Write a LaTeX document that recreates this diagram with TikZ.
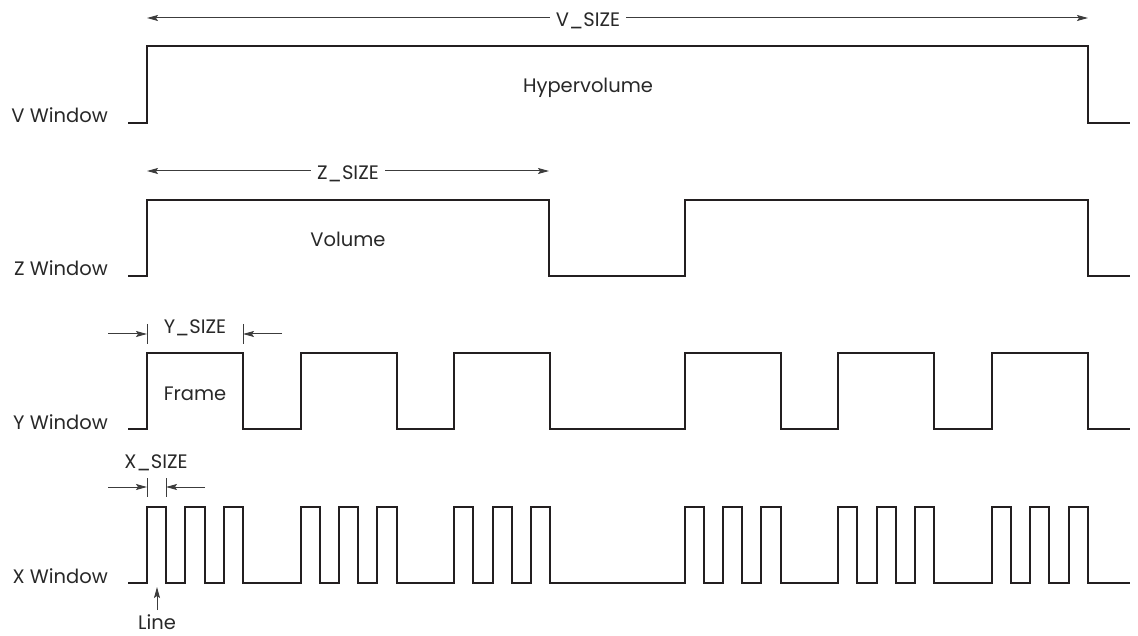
\documentclass[tikz,border=0pt]{standalone}
\usepackage{fontspec}
\setmainfont{Poppins}
\usetikzlibrary{arrows.meta}
\definecolor{sigc}{RGB}{35,31,32}
\definecolor{dimc}{RGB}{60,60,60}
\definecolor{txtc}{RGB}{40,40,40}
\begin{document}
\begin{tikzpicture}[x=1pt,y=-1pt,
  sig/.style={line width=2pt,draw=sigc},
  dim/.style={line width=1pt,draw=dimc},
  dimarrow/.style={dim,-{Stealth[length=11pt,width=6pt,inset=2pt]}},
  lbl/.style={font=\fontsize{19.5}{23}\selectfont,text=txtc,inner sep=0pt},
  dimlbl/.style={lbl,fill=white,inner xsep=6pt},
]
\useasboundingbox (0,0) rectangle (1138,636);

% row labels
\node[lbl,anchor=base east] (vw) at (108,123) {V Window};
\node[lbl,anchor=base east] (zw) at (108,276) {Z Window};
\node[lbl,anchor=base east] (yw) at (108,429) {Y Window};
\node[lbl,anchor=base east] (xw) at (108,583) {X Window};

% V window
\draw[sig] (128,123) -- (147,123) -- (147,46) -- (1088,46) -- (1088,123) -- (1130,123);
% Z window
\draw[sig] (128,276) -- (147,276) -- (147,200) -- (549,200) -- (549,276)
  -- (685,276) -- (685,200) -- (1088,200) -- (1088,276) -- (1130,276);
% Y window
\draw[sig] (128,429) foreach \f in {147,300.6,454.2,684.6,838.2,991.8}
  { -- (\f,429) -- (\f,353) -- ({\f+96},353) -- ({\f+96},429) } -- (1130,429);
% X window
\draw[sig] (128,583) foreach \f in {147,300.6,454.2,684.6,838.2,991.8}
  { -- (\f,583) -- (\f,507) -- ({\f+19.2},507) -- ({\f+19.2},583)
    -- ({\f+38.4},583) -- ({\f+38.4},507) -- ({\f+57.6},507) -- ({\f+57.6},583)
    -- ({\f+76.8},583) -- ({\f+76.8},507) -- ({\f+96},507) -- ({\f+96},583) } -- (1130,583);

% inner labels
\node[lbl,anchor=base] (hyper) at (588,93) {Hypervolume};
\node[lbl,anchor=base] (vol) at (348,247) {Volume};
\node[lbl,anchor=base] (frame) at (195,400) {Frame};

% V_SIZE
\coordinate (vl) at (147,18);
\coordinate (vr) at (1088,18);
\node[dimlbl,anchor=base] (vsize) at (588,27) {V\_SIZE};
\draw[dimarrow] (vsize.west |- vl) -- (vl);
\draw[dimarrow] (vsize.east |- vr) -- (vr);

% Z_SIZE
\coordinate (zl) at (147,171);
\coordinate (zr) at (549,171);
\node[dimlbl,anchor=base] (zsize) at (348,180) {Z\_SIZE};
\draw[dimarrow] (zsize.west |- zl) -- (zl);
\draw[dimarrow] (zsize.east |- zr) -- (zr);

% Y_SIZE
\node[lbl,anchor=base] (ysize) at (195,334) {Y\_SIZE};
\coordinate (yl0) at (108,334);
\coordinate (yl) at (147,334);
\coordinate (yr0) at (282,334);
\coordinate (yr) at (243,334);
\draw[dim] (147,324) -- (147,344);
\draw[dim] (243,324) -- (243,344);
\draw[dimarrow] (yl0) -- (yl);
\draw[dimarrow] (yr0) -- (yr);

% X_SIZE
\node[lbl,anchor=base] (xsize) at (156,468) {X\_SIZE};
\coordinate (xl0) at (108,487);
\coordinate (xl) at (147,487);
\coordinate (xr0) at (205,487);
\coordinate (xr) at (166,487);
\draw[dim] (147,478) -- (147,497);
\draw[dim] (166,478) -- (166,497);
\draw[dimarrow] (xl0) -- (xl);
\draw[dimarrow] (xr0) -- (xr);

% Line
\node[lbl,anchor=base] (line) at (157,629) {Line};
\coordinate (lb) at (157,610);
\coordinate (lt) at (157,587);
\draw[dimarrow] (lb) -- (lt);
\end{tikzpicture}
\end{document}
